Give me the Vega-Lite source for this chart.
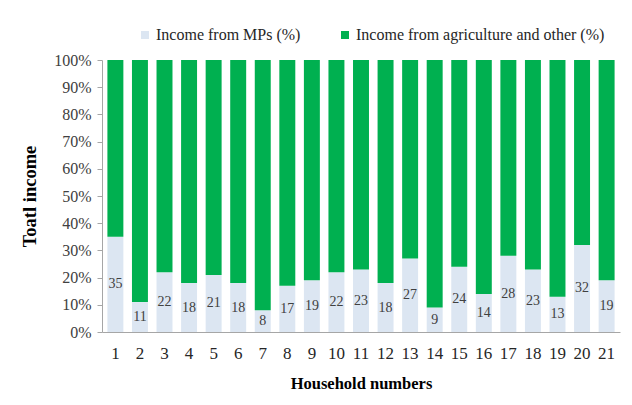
{
  "$schema": "https://vega.github.io/schema/vega-lite/v6.json",
  "autosize": {"type": "none"},
  "padding": {"left": 102, "top": 60, "right": 12, "bottom": 73},
  "width": 518,
  "height": 272,
  "background": "white",
  "data": {
    "values": [
      {"household": 1, "source": "Income from MPs (%)", "share": 35},
      {"household": 2, "source": "Income from MPs (%)", "share": 11},
      {"household": 3, "source": "Income from MPs (%)", "share": 22},
      {"household": 4, "source": "Income from MPs (%)", "share": 18},
      {"household": 5, "source": "Income from MPs (%)", "share": 21},
      {"household": 6, "source": "Income from MPs (%)", "share": 18},
      {"household": 7, "source": "Income from MPs (%)", "share": 8},
      {"household": 8, "source": "Income from MPs (%)", "share": 17},
      {"household": 9, "source": "Income from MPs (%)", "share": 19},
      {"household": 10, "source": "Income from MPs (%)", "share": 22},
      {"household": 11, "source": "Income from MPs (%)", "share": 23},
      {"household": 12, "source": "Income from MPs (%)", "share": 18},
      {"household": 13, "source": "Income from MPs (%)", "share": 27},
      {"household": 14, "source": "Income from MPs (%)", "share": 9},
      {"household": 15, "source": "Income from MPs (%)", "share": 24},
      {"household": 16, "source": "Income from MPs (%)", "share": 14},
      {"household": 17, "source": "Income from MPs (%)", "share": 28},
      {"household": 18, "source": "Income from MPs (%)", "share": 23},
      {"household": 19, "source": "Income from MPs (%)", "share": 13},
      {"household": 20, "source": "Income from MPs (%)", "share": 32},
      {"household": 21, "source": "Income from MPs (%)", "share": 19},
      {"household": 1, "source": "Income from agriculture and other (%)", "share": 65},
      {"household": 2, "source": "Income from agriculture and other (%)", "share": 89},
      {"household": 3, "source": "Income from agriculture and other (%)", "share": 78},
      {"household": 4, "source": "Income from agriculture and other (%)", "share": 82},
      {"household": 5, "source": "Income from agriculture and other (%)", "share": 79},
      {"household": 6, "source": "Income from agriculture and other (%)", "share": 82},
      {"household": 7, "source": "Income from agriculture and other (%)", "share": 92},
      {"household": 8, "source": "Income from agriculture and other (%)", "share": 83},
      {"household": 9, "source": "Income from agriculture and other (%)", "share": 81},
      {"household": 10, "source": "Income from agriculture and other (%)", "share": 78},
      {"household": 11, "source": "Income from agriculture and other (%)", "share": 77},
      {"household": 12, "source": "Income from agriculture and other (%)", "share": 82},
      {"household": 13, "source": "Income from agriculture and other (%)", "share": 73},
      {"household": 14, "source": "Income from agriculture and other (%)", "share": 91},
      {"household": 15, "source": "Income from agriculture and other (%)", "share": 76},
      {"household": 16, "source": "Income from agriculture and other (%)", "share": 86},
      {"household": 17, "source": "Income from agriculture and other (%)", "share": 72},
      {"household": 18, "source": "Income from agriculture and other (%)", "share": 77},
      {"household": 19, "source": "Income from agriculture and other (%)", "share": 87},
      {"household": 20, "source": "Income from agriculture and other (%)", "share": 68},
      {"household": 21, "source": "Income from agriculture and other (%)", "share": 81}
    ]
  },
  "encoding": {
    "x": {
      "field": "household",
      "type": "ordinal",
      "scale": {"paddingInner": 0.35, "paddingOuter": 0.22},
      "axis": {
        "title": "Household numbers",
        "labelAngle": 0,
        "labelFont": "Liberation Serif",
        "labelFontSize": 17,
        "labelColor": "#262626",
        "labelPadding": 13,
        "ticks": false,
        "domainColor": "#a6a6a6",
        "titleFont": "Liberation Serif",
        "titleFontSize": 16.5,
        "titleFontWeight": "bold",
        "titleColor": "#000000",
        "titlePadding": 14
      }
    }
  },
  "layer": [
    {
      "mark": {"type": "bar"},
      "encoding": {
        "y": {
          "field": "share",
          "type": "quantitative",
          "stack": "zero",
          "scale": {"domain": [0, 100], "nice": false},
          "axis": {
            "title": "Toatl income",
            "values": [0, 10, 20, 30, 40, 50, 60, 70, 80, 90, 100],
            "labelExpr": "datum.value + '%'",
            "labelOverlap": false,
            "grid": false,
            "labelFont": "Liberation Serif",
            "labelFontSize": 16,
            "labelColor": "#404040",
            "labelPadding": 6,
            "tickSize": 5,
            "tickColor": "#a6a6a6",
            "domainColor": "#a6a6a6",
            "titleFont": "Liberation Serif",
            "titleFontSize": 18.5,
            "titleFontWeight": "bold",
            "titleColor": "#000000",
            "titlePadding": 14
          }
        },
        "color": {
          "field": "source",
          "type": "nominal",
          "sort": ["Income from MPs (%)", "Income from agriculture and other (%)"],
          "scale": {
            "domain": ["Income from MPs (%)", "Income from agriculture and other (%)"],
            "range": ["#dce6f2", "#00b050"]
          },
          "legend": {
            "title": null,
            "orient": "none",
            "legendX": 35,
            "legendY": -33,
            "direction": "horizontal",
            "symbolType": "square",
            "symbolSize": 64,
            "symbolStrokeWidth": 0,
            "labelFont": "Liberation Serif",
            "labelFontSize": 16,
            "labelColor": "#262626",
            "labelOffset": 3,
            "labelLimit": 320,
            "columnPadding": 36,
            "padding": 0
          }
        },
        "order": {"field": "source", "sort": "ascending"}
      }
    },
    {
      "transform": [{"filter": "datum.source === 'Income from MPs (%)'"}],
      "mark": {
        "type": "text",
        "font": "Liberation Serif",
        "fontSize": 14,
        "color": "#404040",
        "baseline": "middle"
      },
      "encoding": {
        "y": {
          "field": "share",
          "type": "quantitative",
          "stack": "zero",
          "bandPosition": 0.5,
          "axis": null
        },
        "text": {"field": "share", "type": "quantitative"}
      }
    }
  ],
  "resolve": {"axis": {"y": "independent"}},
  "config": {
    "font": "Liberation Serif",
    "view": {"stroke": null}
  }
}
